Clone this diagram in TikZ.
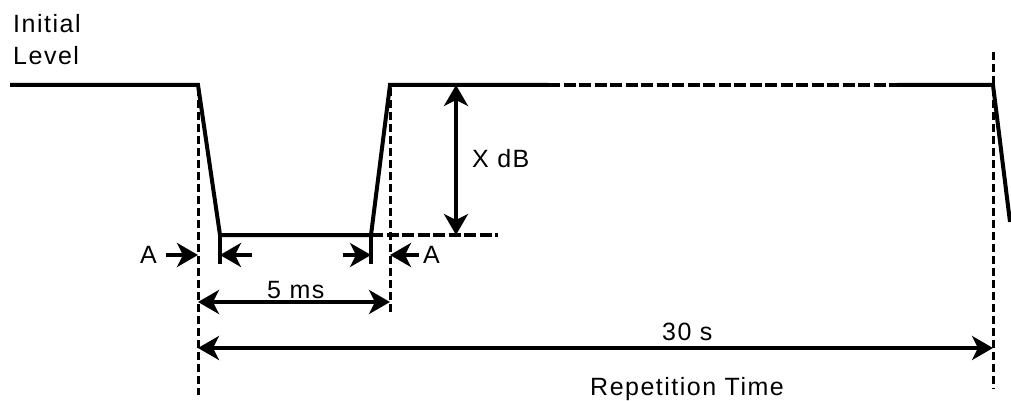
\documentclass[tikz,border=0pt]{standalone}
\usepackage{fontspec}
\setmainfont{Liberation Sans}[LetterSpace=6]
\usetikzlibrary{arrows.meta}
\tikzset{
  signal/.style={line width=4pt, line join=miter},
  guide/.style={line width=3pt, dash pattern=on 8pt off 4pt},
  guideh/.style={line width=3.2pt, dash pattern=on 12pt off 3.5pt},
  dim/.style={line width=3.5pt, -{Stealth[length=21pt,width=24pt,inset=6pt]}},
  dimboth/.style={line width=3.5pt, {Stealth[length=21pt,width=24pt,inset=6pt]}-{Stealth[length=21pt,width=24pt,inset=6pt]}},
  tick/.style={line width=3.5pt},
  lbl/.style={inner sep=0pt, anchor=base west, font=\fontsize{25}{30}\selectfont}
}
\begin{document}
\begin{tikzpicture}[x=1pt,y=-1pt]
\useasboundingbox (0,0) rectangle (1011,401);
% key points of the signal
\coordinate (s0) at (10,85);
\coordinate (s1) at (198,85);
\coordinate (s2) at (220,235);
\coordinate (s3) at (371,235);
\coordinate (s4) at (390,85);
\coordinate (s5) at (548,85);
\coordinate (s6) at (897,85);
\coordinate (s7) at (993,85);
\coordinate (s8) at (1010,222);
% guide lines
\coordinate (g1t) at (198,88);
\coordinate (g1b) at (198,395);
\coordinate (g2t) at (390,88);
\coordinate (g2b) at (390,312);
\coordinate (g3t) at (993,52);
\coordinate (g3b) at (993,389);
\coordinate (h1) at (498,235);
% signal
\draw[signal] (s0) -- (s1) -- (s2) -- (s3) -- (s4) -- (s5);
\draw[guideh] (s5) -- (s6);
\draw[signal] (s6) -- (s7) -- (s8);
% dashed guides
\draw[guide] (g1t) -- (g1b);
\draw[guide] (g2t) -- (g2b);
\draw[guide] (g3t) -- (g3b);
\draw[guideh] (s3) -- (h1);
% X dB
\coordinate (xt) at (456,85);
\coordinate (xb) at (456,235);
\draw[dimboth] (xt) -- (xb);
\node[lbl] (xdb) at (472,167) {X dB};
% A arrows
\coordinate (a1s) at (166,255);
\coordinate (a1e) at (198,255);
\coordinate (a2s) at (252,255);
\coordinate (a2e) at (220,255);
\coordinate (a3s) at (343,255);
\coordinate (a3e) at (371,255);
\coordinate (a4s) at (419,255);
\coordinate (a4e) at (390,255);
\coordinate (t1a) at (220,237);
\coordinate (t1b) at (220,264);
\coordinate (t2a) at (371,237);
\coordinate (t2b) at (371,264);
\draw[tick] (t1a) -- (t1b);
\draw[tick] (t2a) -- (t2b);
\draw[dim] (a1s) -- (a1e);
\draw[dim] (a2s) -- (a2e);
\draw[dim] (a3s) -- (a3e);
\draw[dim] (a4s) -- (a4e);
\node[lbl] (al) at (140,263) {A};
\node[lbl] (ar) at (423,263) {A};
% 5 ms
\coordinate (m1) at (198,302);
\coordinate (m2) at (390,302);
\draw[dimboth] (m1) -- (m2);
\node[lbl] (ms) at (267,298) {5 ms};
% 30 s
\coordinate (r1) at (198,348);
\coordinate (r2) at (993,348);
\draw[dimboth] (r1) -- (r2);
\node[lbl] (thirty) at (662,340) {30 s};
\node[lbl] (rep) at (590,395) {Repetition Time};
% initial level
\node[lbl] (init) at (13,33) {Initial};
\node[lbl] (lev) at (13,65) {Level};
\end{tikzpicture}
\end{document}
